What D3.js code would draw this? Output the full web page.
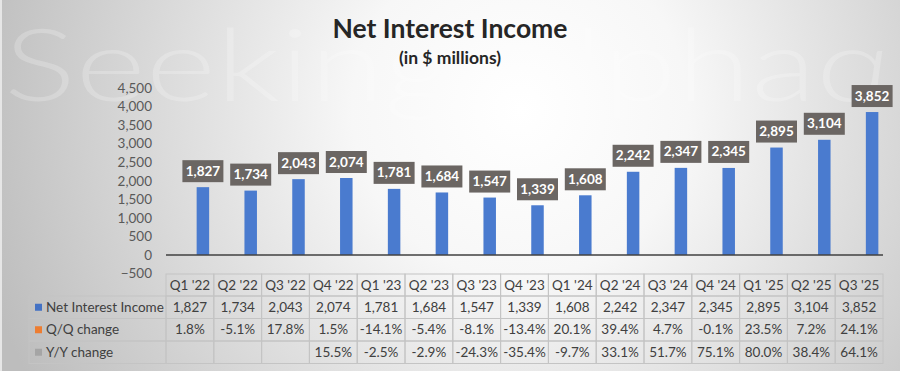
<!DOCTYPE html>
<html>
<head>
<meta charset="utf-8">
<script src="https://cdn.jsdelivr.net/npm/d3@7"></script>
<style>
  html, body { margin: 0; padding: 0; background: #fff; }
  svg { display: block; }
</style>
</head>
<body>
<svg id="chart" width="900" height="371"></svg>
<script>
// ---- data ----
const categories = ["Q1 '22","Q2 '22","Q3 '22","Q4 '22","Q1 '23","Q2 '23","Q3 '23","Q4 '23","Q1 '24","Q2 '24","Q3 '24","Q4 '24","Q1 '25","Q2 '25","Q3 '25"];
const netInterestIncome = [1827,1734,2043,2074,1781,1684,1547,1339,1608,2242,2347,2345,2895,3104,3852];
const qoqChange = ["1.8%","-5.1%","17.8%","1.5%","-14.1%","-5.4%","-8.1%","-13.4%","20.1%","39.4%","4.7%","-0.1%","23.5%","7.2%","24.1%"];
const yoyChange = ["","","","15.5%","-2.5%","-2.9%","-24.3%","-35.4%","-9.7%","33.1%","51.7%","75.1%","80.0%","38.4%","64.1%"];
const yTicks = [-500,0,500,1000,1500,2000,2500,3000,3500,4000,4500];
const seriesNames = ["Net Interest Income","Q/Q change","Y/Y change"];
const seriesColors = ["#4472c4","#ed7d31","#a5a5a5"];

const svg = d3.select("#chart");
const W = 900, H = 371;
const font = "Lato, 'Open Sans', sans-serif";

// background
const defs = svg.append("defs");
const rg = defs.append("radialGradient").attr("id","bg")
  .attr("gradientUnits","userSpaceOnUse")
  .attr("cx",520).attr("cy",110).attr("r",560);
rg.append("stop").attr("offset","0").attr("stop-color","#ffffff");
rg.append("stop").attr("offset","0.3").attr("stop-color","#f7f7f7");
rg.append("stop").attr("offset","1").attr("stop-color","#bdbdbd");
svg.append("rect").attr("width",W).attr("height",H).attr("fill","url(#bg)");
svg.append("rect").attr("x",0).attr("y",0).attr("width",2).attr("height",H).attr("fill","#e6e6e6");

// watermark (faint)
svg.append("text").attr("x",4).attr("y",101)
  .attr("font-family","Lato, sans-serif").attr("font-weight",300)
  .attr("font-size",100).attr("fill","#ffffff").attr("opacity",0.22)
  .attr("textLength",890).attr("lengthAdjust","spacingAndGlyphs")
  .text("Seeking Alpha\u03B1");

// scales
const x = d3.scaleBand().domain(categories).range([166, 883]).padding(0);
const y = d3.scaleLinear().domain([-500, 4500]).range([273.5, 88]);
const barOffset = 13, barW = 12.5;

// title
svg.append("text").attr("x",450).attr("y",38).attr("text-anchor","middle")
  .attr("font-family",font).attr("font-weight",700).attr("font-size",26.5)
  .attr("fill","#262626").text("Net Interest Income");
svg.append("text").attr("x",450).attr("y",64).attr("text-anchor","middle")
  .attr("font-family",font).attr("font-weight",700).attr("font-size",17.5)
  .attr("fill","#262626").text("(in $ millions)");

// y axis
const yAxis = d3.axisLeft(y).tickValues(yTicks).tickFormat(d3.format(",")).tickSize(0).tickPadding(0);
const gy = svg.append("g").attr("transform","translate(152,0)").call(yAxis);
gy.select(".domain").remove();
gy.selectAll("text").attr("font-family",font).attr("font-size",13.5).attr("fill","#595959");

// bars
svg.append("g").selectAll("rect").data(netInterestIncome).join("rect")
  .attr("x",(d,i)=>x(categories[i]) + x.bandwidth()/2 + barOffset - barW/2)
  .attr("y",d=>y(d))
  .attr("width",barW)
  .attr("height",d=>y(0)-y(d))
  .attr("fill","#4a7bcf");

// zero line
svg.append("line").attr("x1",166).attr("x2",883).attr("y1",y(0)).attr("y2",y(0))
  .attr("stroke","#404040").attr("stroke-width",1.6);

// data labels
const lab = svg.append("g").selectAll("g").data(netInterestIncome).join("g")
  .attr("transform",(d,i)=>`translate(${x(categories[i]) + x.bandwidth()/2 + barOffset},${y(d)-5})`);
lab.append("rect").attr("x",-20.5).attr("y",-22).attr("width",41).attr("height",22).attr("fill","#6b6663");
lab.append("text").attr("x",0).attr("y",-6.5).attr("text-anchor","middle")
  .attr("font-family",font).attr("font-weight",700).attr("font-size",13.5)
  .attr("fill","#ffffff").text(d=>d3.format(",")(d));

// data table
const border = "#c4c4c4";
const tbl = svg.append("g");
const rowTop = [274, 296, 318.5, 341];
const rowBottom = [296, 318.5, 341, 363.5];
const legendLeft = 29;
categories.forEach((c,i)=>{
  tbl.append("rect").attr("x",x(c)).attr("y",rowTop[0]).attr("width",x.bandwidth()).attr("height",rowBottom[0]-rowTop[0])
    .attr("fill","none").attr("stroke",border).attr("stroke-width",1);
  tbl.append("text").attr("x",x(c)+x.bandwidth()/2).attr("y",(rowTop[0]+rowBottom[0])/2).attr("dy","0.35em")
    .attr("text-anchor","middle").attr("font-family",font).attr("font-size",13.5).attr("fill","#404040").text(c);
});
const rows = [netInterestIncome.map(d3.format(",")), qoqChange, yoyChange];
rows.forEach((vals,r)=>{
  const t = rowTop[r+1], b = rowBottom[r+1];
  tbl.append("rect").attr("x",legendLeft).attr("y",t).attr("width",166-legendLeft).attr("height",b-t)
    .attr("fill","none").attr("stroke",border).attr("stroke-width",1);
  tbl.append("rect").attr("x",35).attr("y",(t+b)/2-3.5).attr("width",7).attr("height",7).attr("fill",seriesColors[r]);
  tbl.append("text").attr("x",46).attr("y",(t+b)/2).attr("dy","0.35em")
    .attr("font-family",font).attr("font-size",13.5).attr("fill","#404040").text(seriesNames[r]);
  vals.forEach((v,i)=>{
    const c = categories[i];
    tbl.append("rect").attr("x",x(c)).attr("y",t).attr("width",x.bandwidth()).attr("height",b-t)
      .attr("fill","none").attr("stroke",border).attr("stroke-width",1);
    tbl.append("text").attr("x",x(c)+x.bandwidth()/2).attr("y",(t+b)/2).attr("dy","0.35em")
      .attr("text-anchor","middle").attr("font-family",font).attr("font-size",13.5).attr("fill","#404040").text(v);
  });
});
</script>
</body>
</html>
